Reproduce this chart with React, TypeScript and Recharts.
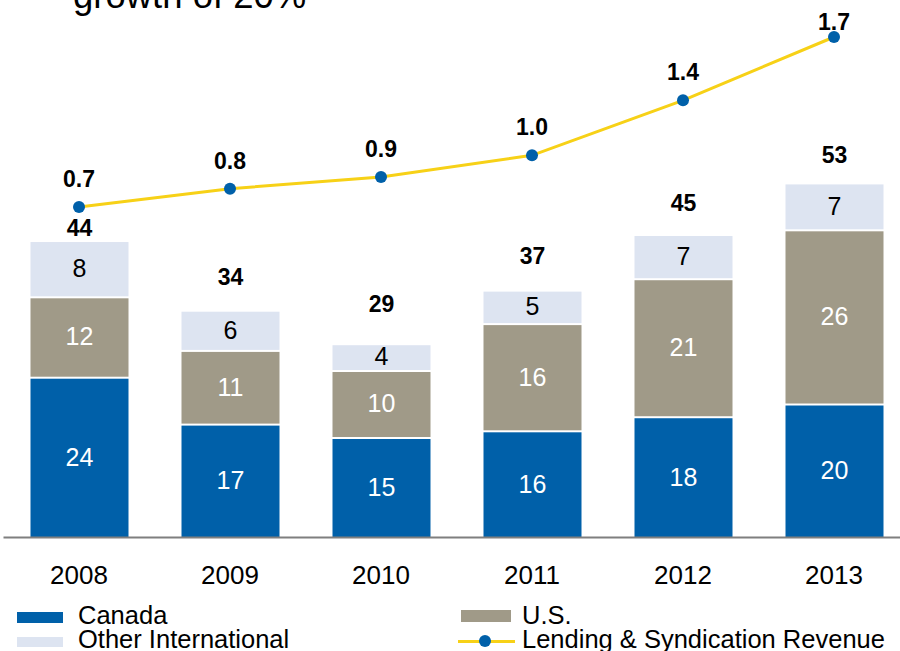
import { ComposedChart, Bar, Line, XAxis, YAxis, LabelList } from 'recharts'

const years = ['2008', '2009', '2010', '2011', '2012', '2013']
const canada = [24, 17, 15, 16, 18.1, 20]
const us = [12, 11, 10, 16, 20.6, 26]
const otherIntl = [8.4, 6, 4, 5, 6.6, 7]
const revenue = [0.72, 0.83, 0.9, 1.03, 1.36, 1.74]

const BLUE = '#0060A9'
const TAUPE = '#A09A88'
const PALE = '#DDE4F1'
const YELLOW = '#F7D117'
const FONT = '"Liberation Sans", Arial, sans-serif'

// distance from the top of each stack to its total label
const totalGap = [12, 33, 39, 34, 31, 27]

const data = years.map((year, i) => ({
  year,
  canada: canada[i],
  us: us[i],
  otherIntl: otherIntl[i],
  revenue: revenue[i],
  total: canada[i] + us[i] + otherIntl[i],
}))

const Segment = (props: any) => {
  const { x, y, width, height, fill } = props
  if (!height || height <= 2) return null
  return <rect x={x} y={y + 2} width={width} height={height - 2} fill={fill} />
}

const YearTick = ({ x, y, payload }: any) => (
  <text x={x} y={y + 46.5} textAnchor="middle" fontSize={26} fontFamily={FONT} fill="#000">
    {payload.value}
  </text>
)

const TotalLabel = (props: any) => {
  const { x, y, width, index } = props
  return (
    <text
      x={x + width / 2}
      y={y - totalGap[index]}
      textAnchor="middle"
      dominantBaseline="central"
      fontSize={23}
      fontWeight="bold"
      fontFamily={FONT}
      fill="#000"
    >
      {Math.round(data[index].total)}
    </text>
  )
}

const RevenueLabel = (props: any) => {
  const { x, y, value } = props
  return (
    <text
      x={x}
      y={Math.max(y - 28, 22)}
      textAnchor="middle"
      dominantBaseline="central"
      fontSize={23}
      fontWeight="bold"
      fontFamily={FONT}
      fill="#000"
    >
      {Number(value).toFixed(1)}
    </text>
  )
}

const fmt = (v: any) => Math.round(Number(v))

const legendText = { position: 'absolute' as const, fontSize: 25.5, lineHeight: '25.5px', fontFamily: FONT, color: '#000', whiteSpace: 'nowrap' as const }

export default function App() {
  return (
    <div style={{ position: 'absolute', left: 0, top: 0, width: 900, height: 651, overflow: 'hidden', background: '#fff' }}>
      <div style={{ position: 'absolute', left: 73, top: -22.5, fontSize: 36.5, lineHeight: '36px', fontFamily: FONT, whiteSpace: 'nowrap' }}>
        growth of 20%
      </div>
      <div style={{ position: 'absolute', left: 0, top: 0 }}>
        <ComposedChart width={910} height={600} data={data} margin={{ top: 30, right: 0.5, left: 3.5, bottom: 12.5 }}>
          <XAxis
            dataKey="year"
            height={50}
            tickSize={0}
            tickMargin={0}
            tickLine={false}
            axisLine={{ stroke: '#7F7F7F', strokeWidth: 2 }}
            tick={<YearTick />}
            interval={0}
          />
          <YAxis yAxisId="left" hide domain={[0, 75.75]} allowDataOverflow />
          <YAxis yAxisId="right" hide domain={[-1.263, 1.782]} allowDataOverflow />
          <Bar yAxisId="left" dataKey="canada" stackId="a" fill={BLUE} barSize={98} shape={<Segment />} isAnimationActive={false}>
            <LabelList dataKey="canada" position="center" fill="#fff" fontSize={25} fontFamily={FONT} formatter={fmt} />
          </Bar>
          <Bar yAxisId="left" dataKey="us" stackId="a" fill={TAUPE} barSize={98} shape={<Segment />} isAnimationActive={false}>
            <LabelList dataKey="us" position="center" fill="#fff" fontSize={25} fontFamily={FONT} formatter={fmt} />
          </Bar>
          <Bar yAxisId="left" dataKey="otherIntl" stackId="a" fill={PALE} barSize={98} shape={<Segment />} isAnimationActive={false}>
            <LabelList dataKey="otherIntl" position="center" fill="#000" fontSize={25} fontFamily={FONT} formatter={fmt} />
            <LabelList dataKey="total" content={<TotalLabel />} />
          </Bar>
          <Line
            yAxisId="right"
            dataKey="revenue"
            stroke={YELLOW}
            strokeWidth={3}
            dot={{ r: 6, fill: BLUE, stroke: 'none' }}
            activeDot={false}
            isAnimationActive={false}
          >
            <LabelList dataKey="revenue" content={<RevenueLabel />} />
          </Line>
        </ComposedChart>
      </div>

      {/* legend */}
      <div style={{ position: 'absolute', left: 17, top: 612, width: 46, height: 11, background: BLUE }} />
      <div style={{ ...legendText, left: 78, top: 603.4 }}>Canada</div>
      <div style={{ position: 'absolute', left: 17, top: 637, width: 46, height: 10, background: PALE }} />
      <div style={{ ...legendText, left: 78, top: 627.4 }}>Other International</div>
      <div style={{ position: 'absolute', left: 461, top: 610, width: 50, height: 12, background: TAUPE }} />
      <div style={{ ...legendText, left: 522, top: 603.4 }}>U.S.</div>
      <div style={{ position: 'absolute', left: 458, top: 639.5, width: 57, height: 3, background: YELLOW }} />
      <div style={{ position: 'absolute', left: 479, top: 635, width: 12, height: 12, borderRadius: 6, background: BLUE }} />
      <div style={{ ...legendText, left: 522, top: 627.4 }}>Lending &amp; Syndication Revenue</div>
    </div>
  )
}
